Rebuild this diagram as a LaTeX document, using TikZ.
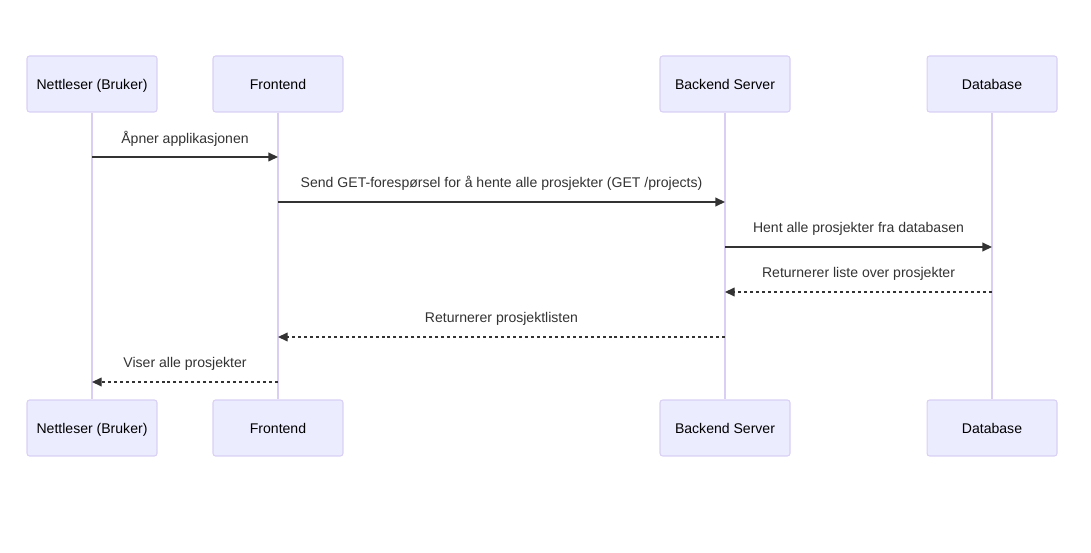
\documentclass[tikz,border=0pt]{standalone}
\usepackage{fontspec}
\setmainfont{Liberation Sans}
\usepackage{xcolor}
\usetikzlibrary{arrows.meta, positioning, calc}

\definecolor{actorfill}{HTML}{ECECFF}
\definecolor{actorline}{HTML}{D9CFF5}
\definecolor{msgcol}{HTML}{333333}

\begin{document}
\begin{tikzpicture}[x=0.02cm, y=-0.02cm, font=\fontsize{8pt}{9.5pt}\selectfont,
    actor/.style={draw=actorline, fill=actorfill, rounded corners=1.5pt, line width=0.6pt,
        minimum width=2.6cm, minimum height=1.12cm, inner sep=0pt, text=black,
        text height=1.5ex, text depth=0.4ex},
    lifeline/.style={draw=actorline, line width=0.9pt},
    msg/.style={draw=msgcol, line width=0.75pt, -{Triangle[length=5.5pt, width=5pt]}},
    reply/.style={msg, dash pattern=on 1.7pt off 1.7pt},
    msglabel/.style={text=msgcol, inner sep=0pt, midway, yshift=0.37cm}]
    \useasboundingbox (0,0) rectangle (1091,553);
    % actors on top
    \node[actor] (browserTop) at (92,84) {Nettleser (Bruker)};
    \node[actor] (frontTop) at (278,84) {Frontend};
    \node[actor] (backTop) at (725,84) {Backend Server};
    \node[actor] (dbTop) at (992,84) {Database};
    % actors at the bottom
    \node[actor] (browserBot) at (92,428) {Nettleser (Bruker)};
    \node[actor] (frontBot) at (278,428) {Frontend};
    \node[actor] (backBot) at (725,428) {Backend Server};
    \node[actor] (dbBot) at (992,428) {Database};
    % lifelines
    \draw[lifeline] (browserTop) -- (browserBot);
    \draw[lifeline] (frontTop) -- (frontBot);
    \draw[lifeline] (backTop) -- (backBot);
    \draw[lifeline] (dbTop) -- (dbBot);
    % messages
    \draw[msg] (browserTop |- 0,157) -- (frontTop |- 0,157)
        node[msglabel] (m1) {Åpner applikasjonen};
    \draw[msg] (frontTop |- 0,202) -- (backTop |- 0,202)
        node[msglabel] (m2) {Send GET-forespørsel for å hente alle prosjekter (GET /projects)};
    \draw[msg] (backTop |- 0,247) -- (dbTop |- 0,247)
        node[msglabel] (m3) {Hent alle prosjekter fra databasen};
    \draw[reply] (dbTop |- 0,292) -- (backTop |- 0,292)
        node[msglabel] (m4) {Returnerer liste over prosjekter};
    \draw[reply] (backTop |- 0,337) -- (frontTop |- 0,337)
        node[msglabel] (m5) {Returnerer prosjektlisten};
    \draw[reply] (frontTop |- 0,382) -- (browserTop |- 0,382)
        node[msglabel] (m6) {Viser alle prosjekter};
\end{tikzpicture}
\end{document}
